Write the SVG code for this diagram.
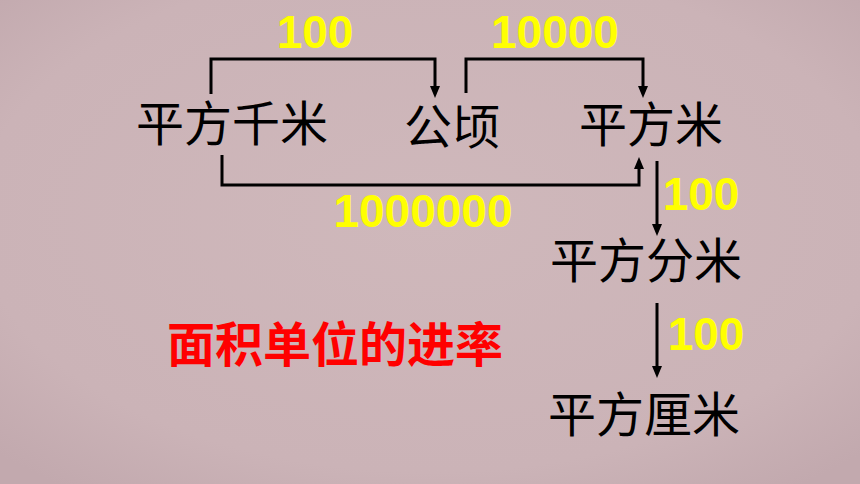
<svg xmlns="http://www.w3.org/2000/svg" width="860" height="484" viewBox="0 0 860 484">
  <defs>
    <radialGradient id="bg" cx="50%" cy="45%" r="70%">
      <stop offset="0%" stop-color="#cfb8bb"/>
      <stop offset="75%" stop-color="#cbb3b7"/>
      <stop offset="100%" stop-color="#c2a9ae"/>
    </radialGradient>
    <marker id="arrow" viewBox="0 0 12 10" refX="2" refY="5" markerWidth="12" markerHeight="10" markerUnits="userSpaceOnUse" orient="auto">
      <path d="M0,0 L12,5 L0,10 z" fill="#000"/>
    </marker>
    <style>
      .unit { font-family: "Noto Sans CJK SC", "Noto Sans", sans-serif; font-size: 48px; fill: #000; }
      .num { font-family: "Liberation Sans", Arial, sans-serif; font-weight: bold; font-size: 46px; fill: #ffff00; text-anchor: middle; }
      .title { font-family: "Noto Sans CJK SC", "Noto Sans", sans-serif; font-weight: bold; font-size: 48px; fill: #ff0000; }
      .conn { fill: none; stroke: #000; stroke-width: 3; marker-end: url(#arrow); }
    </style>
  </defs>
  <rect x="0" y="0" width="860" height="484" fill="url(#bg)"/>

  <g id="connectors">
    <path class="conn" d="M211,94 V59 H435 V88"/>
    <path class="conn" d="M466,93 V59 H643 V88"/>
    <path class="conn" d="M222,155 V185 H639 V167"/>
    <path class="conn" d="M657,161 V226"/>
    <path class="conn" d="M657,303 V368"/>
  </g>

  <g id="labels">
    <text class="num" x="315" y="48">100</text>
    <text class="num" x="555" y="48">10000</text>
    <text class="num" x="423" y="227">1000000</text>
    <text class="num" x="701" y="210">100</text>
    <text class="num" x="706" y="350">100</text>
  </g>

  <g id="node-km2"><text class="unit" x="136" y="141">平方千米</text></g>
  <g id="node-ha"><text class="unit" x="404" y="144">公顷</text></g>
  <g id="node-m2"><text class="unit" x="579" y="142">平方米</text></g>
  <g id="node-dm2"><text class="unit" x="550" y="278">平方分米</text></g>
  <g id="node-cm2"><text class="unit" x="548" y="432">平方厘米</text></g>

  <g id="title"><text class="title" x="167" y="362">面积单位的进率</text></g>
</svg>
